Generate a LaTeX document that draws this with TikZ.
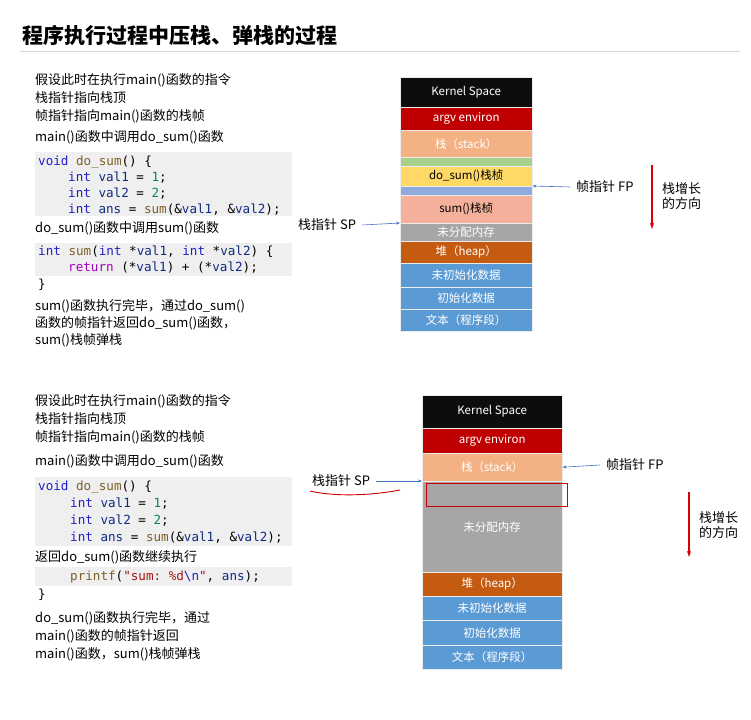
\documentclass[tikz,border=0pt]{standalone}
\usepackage{fontspec}
\setmainfont{Noto Sans CJK SC}
\setmonofont{DejaVu Sans Mono}
\usetikzlibrary{arrows.meta}

\definecolor{kernelc}{HTML}{0D0D0D}
\definecolor{argvc}{HTML}{C00000}
\definecolor{stackc}{HTML}{F4B183}
\definecolor{greenc}{HTML}{A9D18E}
\definecolor{dosumc}{HTML}{FFD966}
\definecolor{lilac}{HTML}{8FAADC}
\definecolor{sumc}{HTML}{F4B09A}
\definecolor{freec}{HTML}{A8A5A6}
\definecolor{heapc}{HTML}{C55A11}
\definecolor{datac}{HTML}{5B9BD5}
\definecolor{codebg}{HTML}{EFEFEF}
\definecolor{kwc}{HTML}{1F1FC8}
\definecolor{fnc}{HTML}{7A5E26}
\definecolor{numc}{HTML}{098658}
\definecolor{varc}{HTML}{102A80}
\definecolor{strc}{HTML}{A31515}
\definecolor{retc}{HTML}{A000C0}
\definecolor{ptrc}{HTML}{4472C4}

\newcommand{\ckw}[1]{\textcolor{kwc}{#1}}
\newcommand{\cfn}[1]{\textcolor{fnc}{#1}}
\newcommand{\cnum}[1]{\textcolor{numc}{#1}}
\newcommand{\cvar}[1]{\textcolor{varc}{#1}}
\newcommand{\cstr}[1]{\textcolor{strc}{#1}}
\newcommand{\cret}[1]{\textcolor{retc}{#1}}

\tikzset{
    seg/.style={anchor=north west,inner sep=0pt,draw=white!85!gray,line width=0.4pt,
        font=\fontsize{11.5}{12}\selectfont},
    txt/.style={anchor=west,inner sep=0pt,font=\fontsize{13}{15}\selectfont},
    code/.style={anchor=west,inner sep=0pt,font=\ttfamily\fontsize{12.6}{14}\selectfont},
    ptr/.style={ptrc,-{Stealth[length=4pt,width=3pt]},line width=0.6pt},
    growarrow/.style={red!85!black,-{Stealth[length=6pt,width=4pt]},line width=1.2pt},
}

\begin{document}
\begin{tikzpicture}[x=1pt,y=-1pt]
    \useasboundingbox (0,0) rectangle (751,719);

    \node (title) [anchor=west,inner sep=0pt,font=\fontsize{21}{24}\bfseries\selectfont] at (22,36) {程序执行过程中压栈、弹栈的过程};
    \draw[gray!30,line width=0.8pt] (20,51) -- (740,51);

    % upper part: text and code
    \fill[codebg] (35,152) rectangle (292,216);
    \fill[codebg] (35,243) rectangle (292,276);

    \node (a1) [txt] at (35,80)  {假设此时在执行main()函数的指令};
    \node (a2) [txt] at (35,98)  {栈指针指向栈顶};
    \node (a3) [txt] at (35,116) {帧指针指向main()函数的栈帧};
    \node (a4) [txt] at (35,137) {main()函数中调用do\_sum()函数};

    \node (c1) [code] at (38,162) {\ckw{void} \cfn{do\_sum}() \{};
    \node (c2) [code] at (68,178) {\ckw{int} \cvar{val1} = \cnum{1};};
    \node (c3) [code] at (68,194) {\ckw{int} \cvar{val2} = \cnum{2};};
    \node (c4) [code] at (68,210) {\ckw{int} \cvar{ans} = \cfn{sum}(\&\cvar{val1}, \&\cvar{val2});};

    \node (a5) [txt] at (35,228) {do\_sum()函数中调用sum()函数};

    \node (c5) [code] at (38,252) {\ckw{int} \cfn{sum}(\ckw{int} *\cvar{val1}, \ckw{int} *\cvar{val2}) \{};
    \node (c6) [code] at (68,268) {\cret{return} (*\cvar{val1}) + (*\cvar{val2});};
    \node (c7) [code] at (38,285) {\}};

    \node (a6) [txt] at (35,306) {sum()函数执行完毕，通过do\_sum()};
    \node (a7) [txt] at (35,323) {函数的帧指针返回do\_sum()函数，};
    \node (a8) [txt] at (35,340) {sum()栈帧弹栈};

    % upper part: memory layout
    \node (k1) [seg,fill=kernelc,text=white,minimum width=132,minimum height=30] at (400,77)  {Kernel Space};
    \node (e1) [seg,fill=argvc,text=white,minimum width=132,minimum height=23]   at (400,107) {argv environ};
    \node (s1) [seg,fill=stackc,text=white,minimum width=132,minimum height=27]  at (400,130) {栈（stack）};
    \node (g1) [seg,fill=greenc,minimum width=132,minimum height=9]              at (400,157) {};
    \node (d1) [seg,fill=dosumc,minimum width=132,minimum height=20]             at (400,166) {do\_sum()栈桢};
    \node (l1) [seg,fill=lilac,minimum width=132,minimum height=9]               at (400,186) {};
    \node (m1) [seg,fill=sumc,minimum width=132,minimum height=28]               at (400,195) {sum()栈桢};
    \node (f1) [seg,fill=freec,text=white,minimum width=132,minimum height=18]   at (400,223) {未分配内存};
    \node (h1) [seg,fill=heapc,text=white,minimum width=132,minimum height=22]   at (400,241) {堆（heap）};
    \node (u1) [seg,fill=datac,text=white,minimum width=132,minimum height=24]   at (400,263) {未初始化数据};
    \node (i1) [seg,fill=datac,text=white,minimum width=132,minimum height=22]   at (400,287) {初始化数据};
    \node (t1) [seg,fill=datac,text=white,minimum width=132,minimum height=22]   at (400,309) {文本（程序段）};

    \node (fp1) [txt] at (576,187) {帧指针 FP};
    \node (sp1) [txt] at (298,225) {栈指针 SP};
    \draw[ptr] (fp1.west) ++(-6,0) -- (l1.north east);
    \draw[ptr] (sp1.east) ++(6,0) -- (f1.north west);

    \coordinate (gt1) at (652,165);
    \coordinate (gb1) at (652,229);
    \draw[growarrow] (gt1) -- (gb1);
    \node (gl1) [txt,align=left] at (662,196) {栈增长\\的方向};

    % lower part: text and code
    \fill[codebg] (35,477) rectangle (292,546);
    \fill[codebg] (35,567) rectangle (292,586);

    \node (b1) [txt] at (35,401) {假设此时在执行main()函数的指令};
    \node (b2) [txt] at (35,419) {栈指针指向栈顶};
    \node (b3) [txt] at (35,437) {帧指针指向main()函数的栈帧};
    \node (b4) [txt] at (35,461) {main()函数中调用do\_sum()函数};

    \node (q1) [code] at (38,487) {\ckw{void} \cfn{do\_sum}() \{};
    \node (q2) [code] at (70,504) {\ckw{int} \cvar{val1} = \cnum{1};};
    \node (q3) [code] at (70,521) {\ckw{int} \cvar{val2} = \cnum{2};};
    \node (q4) [code] at (70,538) {\ckw{int} \cvar{ans} = \cfn{sum}(\&\cvar{val1}, \&\cvar{val2});};

    \node (b5) [txt] at (35,557) {返回do\_sum()函数继续执行};

    \node (q5) [code] at (70,577) {\cfn{printf}(\cstr{"sum: \%d\textcolor{kwc}{\textbackslash n}"},  \cvar{ans});};
    \node (q6) [code] at (38,595) {\}};

    \node (b6) [txt] at (35,618) {do\_sum()函数执行完毕，通过};
    \node (b7) [txt] at (35,636) {main()函数的帧指针返回};
    \node (b8) [txt] at (35,654) {main()函数，sum()栈帧弹栈};

    % lower part: memory layout
    \node (k2) [seg,fill=kernelc,text=white,minimum width=140,minimum height=33] at (422,395) {Kernel Space};
    \node (e2) [seg,fill=argvc,text=white,minimum width=140,minimum height=25]   at (422,428) {argv environ};
    \node (s2) [seg,fill=stackc,text=white,minimum width=140,minimum height=28]  at (422,453) {栈（stack）};
    \node (f2) [seg,fill=freec,text=white,minimum width=140,minimum height=91]   at (422,481) {未分配内存};
    \node (h2) [seg,fill=heapc,text=white,minimum width=140,minimum height=24]   at (422,572) {堆（heap）};
    \node (u2) [seg,fill=datac,text=white,minimum width=140,minimum height=24]   at (422,596) {未初始化数据};
    \node (i2) [seg,fill=datac,text=white,minimum width=140,minimum height=25]   at (422,620) {初始化数据};
    \node (t2) [seg,fill=datac,text=white,minimum width=140,minimum height=24]   at (422,645) {文本（程序段）};

    \node (box) [draw=red!80!black,line width=1pt,anchor=north west,inner sep=0pt,minimum width=141,minimum height=23] at (426,483) {};

    \node (fp2) [txt] at (606,465) {帧指针 FP};
    \node (sp2) [txt] at (312,481) {栈指针 SP};
    \draw[ptr] (fp2.west) ++(-6,0) -- (s2.east);
    \draw[ptr] (sp2.east) ++(6,0) -- (f2.north west);
    \draw[red!80!black,line width=0.9pt] (310,491) .. controls (340,498) and (380,494) .. (400,490);

    \coordinate (gt2) at (689,492);
    \coordinate (gb2) at (689,557);
    \draw[growarrow] (gt2) -- (gb2);
    \node (gl2) [txt,align=left] at (699,525) {栈增长\\的方向};

\end{tikzpicture}
\end{document}
